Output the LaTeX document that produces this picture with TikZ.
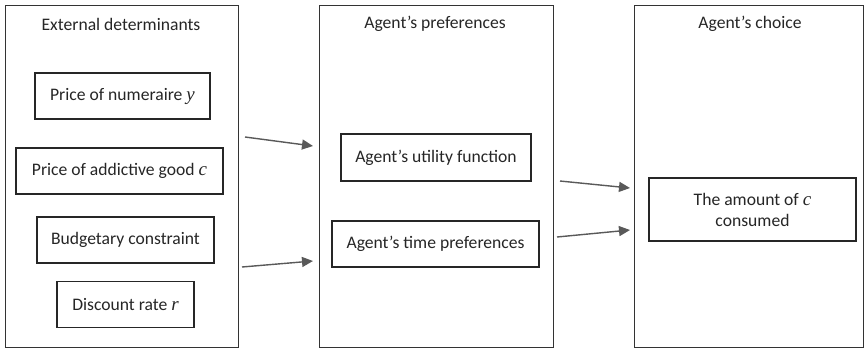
\documentclass[tikz,border=0pt]{standalone}
\usepackage{fontspec}
\setmainfont{Carlito}
\newfontfamily\varfont{Liberation Serif}
\usetikzlibrary{arrows.meta}
\newcommand{\var}[1]{{\varfont\itshape\fontsize{19}{20}\selectfont #1}}
\begin{document}
\begin{tikzpicture}[x=1pt,y=-1pt,
  every node/.style={font=\fontsize{17.6}{21}\selectfont, text=black!85},
  outerbox/.style={draw=black!80, line width=1.1pt, anchor=north west, minimum height=342pt},
  innerbox/.style={draw=black!85, line width=1.1pt, inner sep=0pt, minimum height=46pt, align=center},
  conn/.style={draw=black!65, line width=1.4pt, -{Triangle[length=11pt,width=10pt]}}]
\useasboundingbox (0,0) rectangle (865,349);
\fill[white] (0,0) rectangle (865,349);
% outer boxes
\node[outerbox, minimum width=233pt] (B1) at (5,5) {};
\node[outerbox, minimum width=234pt] (B2) at (319,5) {};
\node[outerbox, minimum width=229pt] (B3) at (634,5) {};
% titles
\node (T1) at (121,24) {External determinants};
\node (T2) at (435,24) {Agent’s preferences};
\node (T3) at (750,24) {Agent’s choice};
% column 1
\node[innerbox, minimum width=175pt] (P1) at (122.5,96) {Price of numeraire \var{y}};
\node[innerbox, minimum width=207pt] (P2) at (119.5,171) {Price of addictive good \var{c}};
\node[innerbox, minimum width=177pt] (P3) at (125.5,240) {Budgetary constraint};
\node[innerbox, minimum width=137pt] (P4) at (125.5,304.5) {Discount rate \var{r}};
% column 2
\node[innerbox, minimum width=190pt, minimum height=47pt] (U1) at (436,157.5) {Agent’s utility function};
\node[innerbox, minimum width=207pt] (U2) at (435.5,244) {Agent’s time preferences};
% column 3
\node[innerbox, minimum width=207pt, minimum height=63pt] (C1) at (752.5,209.5) {The amount of \var{c}\\consumed};
% connectors
\coordinate (a1s) at (245,137); \coordinate (a1e) at (313,146);
\coordinate (a2s) at (242,267); \coordinate (a2e) at (313,261);
\coordinate (a3s) at (560,181); \coordinate (a3e) at (630,188);
\coordinate (a4s) at (557,237); \coordinate (a4e) at (630,230);
\draw[conn] (a1s) -- (a1e);
\draw[conn] (a2s) -- (a2e);
\draw[conn] (a3s) -- (a3e);
\draw[conn] (a4s) -- (a4e);
\end{tikzpicture}
\end{document}
